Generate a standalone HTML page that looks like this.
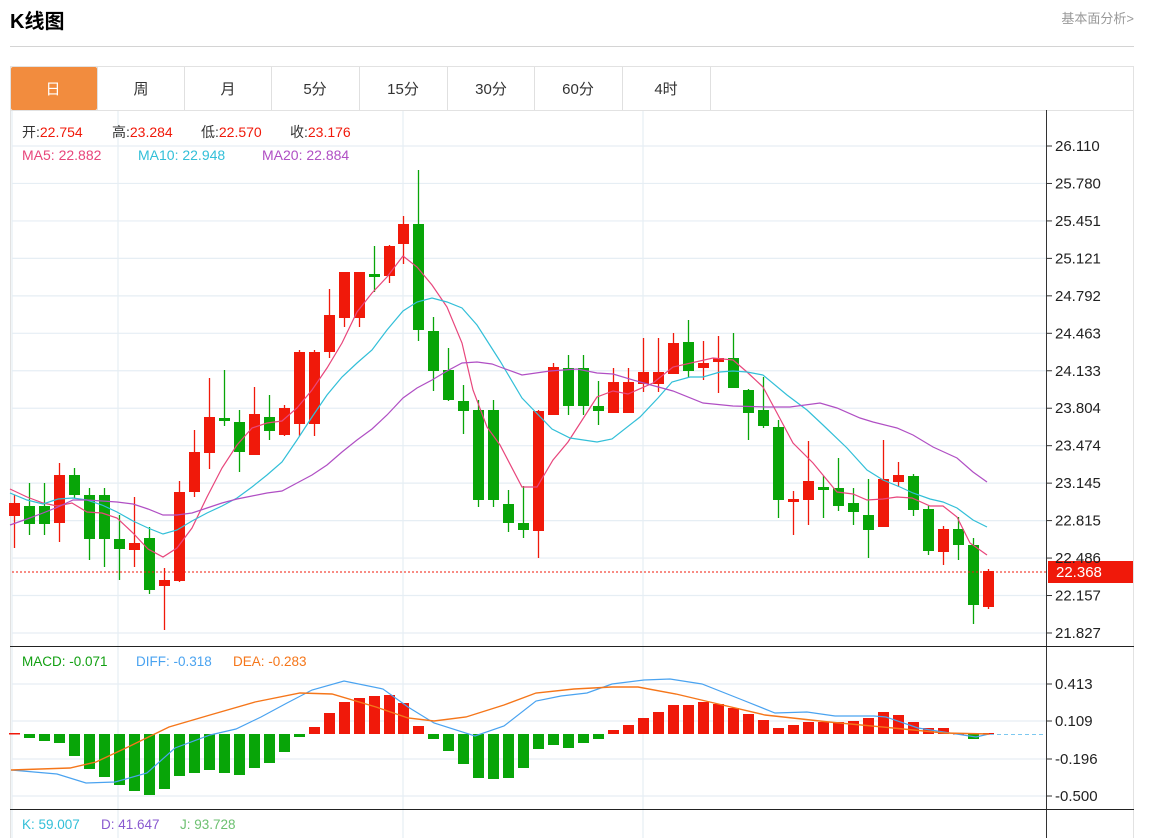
<!DOCTYPE html>
<html><head><meta charset="utf-8"><style>
html,body{margin:0;padding:0;background:#fff;width:1157px;height:838px;overflow:hidden;font-family:"Liberation Sans","Noto Sans CJK SC",sans-serif}
svg{position:absolute;left:0;top:0}
</style></head><body>
<svg id="s" width="1157" height="838" xmlns="http://www.w3.org/2000/svg" font-family="'Liberation Sans','Noto Sans CJK SC',sans-serif">
<text x="10" y="28" font-size="20" font-weight="bold" fill="#000">K线图</text>
<text x="1134" y="23" font-size="13" fill="#999" text-anchor="end">基本面分析&gt;</text>
<line x1="10" y1="46.5" x2="1134" y2="46.5" stroke="#d4d4d4"/>
<rect x="10.5" y="66.5" width="1123" height="780" fill="none" stroke="#e2e2e2"/>
<line x1="10" y1="110.5" x2="1134" y2="110.5" stroke="#e2e2e2"/>
<rect x="11" y="67" width="86" height="43" fill="#f28c3e" rx="2"/>
<g stroke="#e0e0e0"><line x1="97.5" y1="67" x2="97.5" y2="110"/><line x1="184.5" y1="67" x2="184.5" y2="110"/><line x1="271.5" y1="67" x2="271.5" y2="110"/><line x1="359.5" y1="67" x2="359.5" y2="110"/><line x1="447.5" y1="67" x2="447.5" y2="110"/><line x1="534.5" y1="67" x2="534.5" y2="110"/><line x1="622.5" y1="67" x2="622.5" y2="110"/><line x1="710.5" y1="67" x2="710.5" y2="110"/></g>
<g font-size="15" text-anchor="middle" fill="#333"><text x="53" y="94" fill="#fff">日</text><text x="141" y="94">周</text><text x="228" y="94">月</text><text x="315" y="94">5分</text><text x="403" y="94">15分</text><text x="491" y="94">30分</text><text x="578" y="94">60分</text><text x="666" y="94">4时</text></g>
<g id="grid" stroke="#e6eef4" stroke-width="1.2"></g>
<g id="c"></g>
<line x1="1046.5" y1="110" x2="1046.5" y2="838" stroke="#333"/>
<line x1="10" y1="646.5" x2="1134" y2="646.5" stroke="#222"/>
<line x1="10" y1="809.5" x2="1134" y2="809.5" stroke="#222"/>
<line x1="12" y1="572" x2="1046" y2="572" stroke="#f0190a" stroke-dasharray="2,2"/>
<line x1="990" y1="734.5" x2="1046" y2="734.5" stroke="#7cc8f0" stroke-dasharray="4,3"/>
<rect x="1048" y="561" width="85" height="22" fill="#f0190a"/>
<text x="1056" y="577" font-size="15" fill="#fff">22.368</text>
<g font-size="14" fill="#333">
<text x="22" y="137">开:<tspan fill="#f0190a">22.754</tspan></text>
<text x="112" y="137">高:<tspan fill="#f0190a">23.284</tspan></text>
<text x="201" y="137">低:<tspan fill="#f0190a">22.570</tspan></text>
<text x="290" y="137">收:<tspan fill="#f0190a">23.176</tspan></text>
<text x="22" y="160" fill="#e8467c">MA5: 22.882</text><text x="138" y="160" fill="#32bfd8">MA10: 22.948</text><text x="262" y="160" fill="#b04fc4">MA20: 22.884</text>
<text x="22" y="666" font-size="13.5" fill="#12a012">MACD: -0.071</text><text x="136" y="666" font-size="13.5" fill="#4aa3f0">DIFF: -0.318</text><text x="233" y="666" font-size="13.5" fill="#f5761a">DEA: -0.283</text>
<text x="22" y="829" font-size="13.5" fill="#32bfd8">K: 59.007</text><text x="101" y="829" font-size="13.5" fill="#8a5ad0">D: 41.647</text><text x="180" y="829" font-size="13.5" fill="#6cc070">J: 93.728</text>
</g>
<g id="ax" font-size="15" fill="#222"></g>
</svg>
<script>
var NS="http://www.w3.org/2000/svg";
function el(p,t,a){var e=document.createElementNS(NS,t);for(var k in a)e.setAttribute(k,a[k]);p.appendChild(e);return e;}
var g=document.getElementById('grid'),c=document.getElementById('c'),ax=document.getElementById('ax');
var pl=["26.110","25.780","25.451","25.121","24.792","24.463","24.133","23.804","23.474","23.145","22.815","22.486","22.157","21.827"];
for(var i=0;i<14;i++){var y=146+i*37.46;el(g,'line',{x1:12,y1:y,x2:1046,y2:y});el(ax,'line',{x1:1046,y1:y,x2:1052,y2:y,stroke:'#333'});var t=el(ax,'text',{x:1055,y:y+5});t.textContent=pl[i];}
var ml=[["0.413",684],["0.109",721],["-0.196",759],["-0.500",796]];
ml.forEach(function(m){el(g,'line',{x1:12,y1:m[1],x2:1046,y2:m[1]});el(ax,'line',{x1:1046,y1:m[1],x2:1052,y2:m[1],stroke:'#333'});var t=el(ax,'text',{x:1055,y:m[1]+5});t.textContent=m[0];});
[12,118,403,643].forEach(function(x){el(g,'line',{x1:x,y1:111,x2:x,y2:838});});
var K=[[1,503,516,495,548],[0,506,524,483,535],[0,506,524,483,535],[1,475,523,463,542],[0,475,495,468,498],[0,495,539,488,560],[0,495,539,488,567],[0,539,549,515,580],[1,543,550,497,567],[0,538,590,527,594],[1,580,586,568,630],[1,492,581,481,582],[1,452,492,430,497],[1,417,453,378,469],[0,418,421,370,426],[0,422,452,410,472],[1,414,455,387,455],[0,417,431,395,440],[1,408,435,405,436],[1,352,424,350,436],[1,352,424,350,436],[1,315,352,289,358],[1,272,318,272,327],[1,272,318,272,327],[0,274,277,246,292],[1,246,276,245,283],[1,224,244,216,264],[0,224,330,170,341],[0,331,371,317,391],[0,370,400,348,401],[0,401,411,385,434],[0,410,500,400,507],[0,410,500,400,507],[0,504,523,490,532],[0,523,530,486,538],[1,411,531,410,558],[1,367,415,363,415],[0,368,406,355,415],[0,368,406,355,415],[0,406,411,381,425],[1,382,413,368,413],[1,382,413,368,413],[1,372,384,338,392],[1,372,384,338,392],[1,343,374,333,374],[0,342,371,320,377],[1,363,368,341,380],[1,358,362,336,393],[0,358,388,333,388],[0,390,413,389,440],[0,410,426,377,428],[0,427,500,420,518],[1,499,502,491,535],[1,481,500,441,525],[0,487,490,476,518],[0,488,506,458,511],[0,503,512,488,525],[0,515,530,479,558],[1,479,527,440,527],[1,475,482,462,487],[0,476,510,474,516],[0,509,551,506,555],[1,529,552,526,565],[0,529,545,517,560],[0,545,605,538,624],[1,571,607,569,609]];
K.forEach(function(k,i){var x=Math.round(14+i*14.98);var col=k[0]?'#f0190a':'#08a508';
el(c,'line',{x1:x+0.5,y1:k[3],x2:x+0.5,y2:k[4],stroke:col,'stroke-width':1.3});
el(c,'rect',{x:x-5,y:k[1],width:11,height:Math.max(2,k[2]-k[1]),fill:col});});
function poly(pts,col,w){el(c,'polyline',{points:pts,fill:'none',stroke:col,'stroke-width':w||1.2});}
poly("10,489 27,497 43,503 57,506 72,503 87,512 102,513 117,518 133,533 148,549 163,557 177,548 192,528 207,497 222,468 237,445 252,428 267,423 282,421 297,408 312,390 327,368 342,343 357,312 372,293 387,277 403,256 417,267 432,285 447,307 462,343 473,390 487,427 500,445 522,487 537,487 553,460 568,442 597,397 613,391 628,394 653,383 673,367 713,358 733,360 747,372 763,387 777,413 793,443 813,463 837,492 853,494 867,500 883,499 897,497 912,498 930,506 943,506 957,517 970,543 987,555","#e8467c");
poly("10,493 27,500 43,504 58,499 73,498 87,500 102,505 117,512 133,521 148,528 163,534 177,530 192,521 207,513 222,506 237,498 252,487 267,475 282,462 297,440 312,417 327,395 342,377 357,363 372,350 387,330 403,311 417,302 432,298 447,302 462,308 477,325 500,361 522,398 552,429 570,438 597,442 612,439 640,417 658,398 672,382 690,377 703,377 720,372 733,371 747,372 763,375 787,395 807,410 823,425 847,448 867,470 883,480 900,487 913,493 930,499 943,502 957,508 973,520 987,527","#32bfd8");
poly("10,525 27,519 43,513 58,507 73,500 87,500 102,501 117,502 133,504 148,509 163,515 177,515 192,513 207,508 222,503 237,499 252,496 267,493 282,491 297,483 312,475 327,465 342,452 357,440 372,429 387,415 403,398 417,388 432,380 447,371 462,363 477,362 492,364 500,367 522,375 550,371 577,369 597,373 613,374 640,382 673,391 703,403 733,406 767,407 790,407 820,403 837,408 860,418 873,422 897,428 913,435 933,447 957,458 973,472 987,482","#b04fc4");
var M=[733,738,741,743,756,769,777,785,791,795,789,776,773,770,773,775,768,763,752,737,727,713,702,698,696,695,703,726,739,751,764,778,779,778,768,749,745,748,743,739,730,725,718,712,705,705,702,704,708,714,720,728,725,722,722,722,721,718,712,715,722,728,728,733,739,733];
M.forEach(function(v,i){var x=Math.round(14+i*14.98);var y0=734;var col=v<y0?'#f0190a':'#08a508';var t=Math.min(v,y0),h=Math.max(1.5,Math.abs(v-y0));el(c,'rect',{x:x-5,y:t,width:11,height:h,fill:col});});
poly("11,770 57,774 86,783 115,782 147,773 175,748 210,735 236,729 261,717 287,703 312,690 344,681 383,689 408,707 434,723 475,736 504,726 536,701 561,696 587,693 612,684 644,680 670,679 702,684 740,699 775,713 807,712 835,716 874,716 886,717 918,728 950,733 976,737 989,734","#4aa3f0");
poly("11,770 70,768 96,762 128,747 169,727 210,715 255,702 300,693 332,694 376,707 408,718 434,721 466,717 504,705 536,693 574,689 612,687 638,687 676,694 714,703 765,715 829,722 893,728 944,733 989,734","#f5761a",1.4);
</script>
</body></html>
